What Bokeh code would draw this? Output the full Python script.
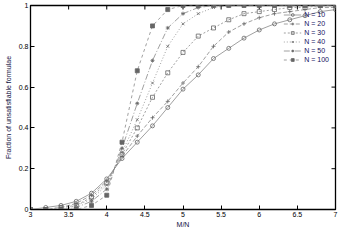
import math
from bokeh.plotting import figure
from bokeh.models import (FixedTicker, NumeralTickFormatter, Legend,
                          LegendItem, Range1d)
from bokeh.embed import file_html
from bokeh.resources import INLINE

# ---- data ----
ratio = [3.0, 3.2, 3.4, 3.6, 3.8, 4.0, 4.2, 4.4, 4.6, 4.8, 5.0,
         5.2, 5.4, 5.6, 5.8, 6.0, 6.2, 6.4, 6.6, 6.8, 7.0]
n10 = [0.00, 0.01, 0.02, 0.04, 0.08, 0.15, 0.25, 0.33, 0.41, 0.50, 0.59,
       0.66, 0.74, 0.79, 0.84, 0.88, 0.91, 0.93, 0.95, 0.97, 0.98]
n20 = [0.00, 0.00, 0.01, 0.03, 0.07, 0.14, 0.26, 0.36, 0.45, 0.53, 0.62,
       0.70, 0.80, 0.87, 0.91, 0.94, 0.96, 0.97, 0.98, 0.99, 0.99]
n30 = [0.00, 0.00, 0.01, 0.02, 0.06, 0.13, 0.27, 0.40, 0.55, 0.67, 0.77,
       0.85, 0.89, 0.93, 0.96, 0.97, 0.98, 0.99, 0.99, 1.00, 1.00]
n40 = [0.00, 0.00, 0.00, 0.02, 0.05, 0.12, 0.28, 0.44, 0.62, 0.80, 0.91,
       0.96, 0.99, 1.00, 1.00, 1.00, 1.00, 1.00, 1.00, 1.00, 1.00]
n50 = [0.00, 0.00, 0.00, 0.01, 0.04, 0.10, 0.30, 0.52, 0.73, 0.89, 0.96,
       0.99, 1.00, 1.00, 1.00, 1.00, 1.00, 1.00, 1.00, 1.00, 1.00]
n100 = [0.00, 0.00, 0.00, 0.00, 0.02, 0.07, 0.33, 0.68, 0.90, 0.98, 1.00,
        1.00, 1.00, 1.00, 1.00, 1.00, 1.00, 1.00, 1.00, 1.00, 1.00]
series_labels = ["N = 10", "N = 20", "N = 30", "N = 40", "N = 50", "N = 100"]
x_ticks = [3, 3.5, 4, 4.5, 5, 5.5, 6, 6.5, 7]
y_ticks = [0, 0.2, 0.4, 0.6, 0.8, 1]

series = [n10, n20, n30, n40, n50, n100]
markers = ["circle", "cross", "square", "x", "asterisk", "square"]
fills = [None, None, None, None, None, "#666666"]
dashes = ["solid", "4 2", "2 2", "1 2", "6 2 1 2", "3 3"]

FONT = "Liberation Sans"
FS = "7px"

p = figure(width=338, height=230, output_backend="svg", toolbar_location=None,
           x_range=Range1d(3, 7), y_range=Range1d(0, 1),
           min_border_left=30, min_border_right=3, min_border_top=5,
           min_border_bottom=2)
p.background_fill_color = "white"
p.border_fill_color = "white"
p.outline_line_color = "black"
p.outline_line_width = 1.3
p.xgrid.visible = False
p.ygrid.visible = False

for ax in (p.xaxis[0], p.yaxis[0]):
    ax.major_tick_in = 4
    ax.major_tick_out = 0
    ax.minor_tick_line_color = None
    ax.axis_line_color = "black"
    ax.axis_line_width = 1
    ax.major_tick_line_color = "black"
    ax.major_label_text_font = FONT
    ax.major_label_text_font_size = FS
    ax.major_label_text_color = "black"
    ax.major_label_standoff = 2
    ax.axis_label_text_font = FONT
    ax.axis_label_text_font_size = FS
    ax.axis_label_text_font_style = "normal"
    ax.axis_label_text_color = "#101040"
    ax.axis_label_standoff = 1
    ax.formatter = NumeralTickFormatter(format="0.[0]")

p.xaxis[0].ticker = FixedTicker(ticks=x_ticks)
p.yaxis[0].ticker = FixedTicker(ticks=y_ticks)
p.xaxis[0].axis_label = "M/N"
p.yaxis[0].axis_label = "Fraction of unsatisfiable formulae"
p.yaxis[0].axis_label_standoff = 4

# mirrored inward ticks on the top and right borders (half clipped by frame)
p.scatter(x_ticks, [1] * len(x_ticks), marker="dash", angle=math.pi / 2,
          size=8, line_color="black", line_width=1)
p.scatter([7] * len(y_ticks), y_ticks, marker="dash", size=8,
          line_color="black", line_width=1)

items = []
for ys, lab, mk, fc, ds in zip(series, series_labels, markers, fills, dashes):
    ln = p.line(ratio, ys, line_color="#888888", line_width=0.8, line_dash=ds)
    sc = p.scatter(ratio, ys, marker=mk, size=4, line_color="#666666",
                   line_width=0.8, fill_color=fc)
    items.append(LegendItem(label=lab, renderers=[ln, sc]))

legend = Legend(items=items, location="top_right")
legend.label_text_font = FONT
legend.label_text_font_size = FS
legend.label_text_color = "#101060"
legend.label_height = 7
legend.glyph_height = 7
legend.glyph_width = 18
legend.label_standoff = 3
legend.spacing = 2
legend.padding = 2
legend.margin = 4
legend.background_fill_alpha = 0
legend.border_line_alpha = 0
p.add_layout(legend, "center")

open("out.html", "w").write(file_html(p, INLINE))
